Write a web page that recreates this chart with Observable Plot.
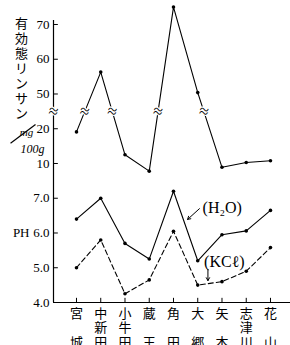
<!DOCTYPE html>
<html><head><meta charset="utf-8">
<script src="https://cdn.jsdelivr.net/npm/d3@7"></script>
<script src="https://cdn.jsdelivr.net/npm/@observablehq/plot@0.6"></script>
<style>html,body{margin:0;padding:0;background:#fff} svg{display:block}</style>
</head><body><div id="chart"></div>
<script>
// ---- data ----
const sites = ["宮城","中新田","小牛田","蔵王","角田","大郷","矢本","志津川","花山"];
const phosphorus = [19.1, 56.3, 12.5, 7.8, 75.0, 50.4, 8.9, 10.3, 10.8]; // mg/100g
const phH2O = [6.4, 7.0, 5.7, 5.25, 7.2, 5.2, 5.95, 6.06, 6.65];
const phKCl = [5.0, 5.8, 4.25, 4.65, 6.05, 4.5, 4.6, 4.9, 5.58];
const pTicks = [10, 20, 50, 60, 70];
const phTicks = [4, 5, 6, 7];
const yTitle = "有効態リンサン";
const unitTop = "mg", unitBottom = "100g";
const seriesLabels = ["(H₂O)", "(KCℓ)"];
const labelPos = [{x: 5.2, ph: 6.73}, {x: 5.26, ph: 5.18}];
const arrowPos = [{x1: 5.07, ph1: 6.70, x2: 4.58, ph2: 6.39}, {x1: 5.42, ph1: 4.95, x2: 5.42, ph2: 4.63}];
const unitSlash = [{x1: -2.72, p1: 15.8, x2: -1.69, p2: 21.2}];

// ---- broken-axis position ----
const posPH = v => v - 4;
const posP = v => v < 35 ? 4 + (v - 10) / 10 : 6 + (v - 50) / 10;
const breakPos = 5.5;

const pData = phosphorus.map((v, i) => ({i, pos: posP(v)}));
const hData = phH2O.map((v, i) => ({i, pos: posPH(v)}));
const kData = phKCl.map((v, i) => ({i, pos: posPH(v)}));
const breaks = [];
for (let i = 0; i < pData.length - 1; i++) {
  const a = pData[i].pos, b = pData[i + 1].pos;
  if ((a < breakPos) !== (b < breakPos)) breaks.push({x: i + (breakPos - a) / (b - a)});
}
const tickTable = [
  ...pTicks.map(v => ({pos: posP(v), label: String(v)})),
  ...phTicks.map(v => ({pos: posPH(v), label: v.toFixed(1)}))
];

const xMin = -0.948, xMax = 8.825, yMax = 8.115;
const serif = "'Liberation Serif','DejaVu Serif',serif";
const cjk = "'Noto Sans CJK JP',sans-serif";

const chart = Plot.plot({
  width: 290, height: 345,
  marginLeft: 53, marginRight: 0, marginTop: 20, marginBottom: 43,
  x: {domain: [xMin, xMax], axis: null},
  y: {domain: [0, yMax], axis: null},
  style: {fontFamily: serif, fontSize: "13px", background: "#fff", color: "#000"},
  marks: [
    Plot.ruleX([xMin], {stroke: "#000", strokeWidth: 1.2}),
    Plot.ruleY([0], {stroke: "#000", strokeWidth: 1.2}),
    Plot.ruleY(tickTable, {y: "pos", x1: xMin, x2: xMin + 0.2, stroke: "#000"}),
    Plot.text(tickTable, {x: xMin, y: "pos", text: "label", textAnchor: "end", dx: -4, fontSize: 13, fontFamily: serif}),
    Plot.text(["PH"], {x: xMin, y: posPH(6), textAnchor: "end", dx: -24, fontSize: 13, fontFamily: serif}),
    Plot.ruleX(sites.map((d, i) => i), {x: d => d, y1: 0, y2: 0.12, stroke: "#000"}),
    Plot.text(sites, {x: (d, i) => i, y: 0, text: d => d.length === 2 ? d[0] + "\n\u3000\n" + d[1] : [...d].join("\n"),
      lineAnchor: "top", dy: 5, lineHeight: 1.12, fontSize: 13, fontFamily: cjk}),
    // y title
    Plot.text([yTitle], {frameAnchor: "top-left", dx: -32, dy: -3, text: d => [...d].join("\n"), lineAnchor: "top",
      textAnchor: "middle", lineHeight: 1.15, fontSize: 13, fontFamily: cjk}),
    Plot.text([unitTop], {frameAnchor: "top-left", dx: -27, dy: 108, textAnchor: "middle", fontStyle: "italic", fontSize: 11, fontFamily: serif}),
    Plot.link(unitSlash, {x1: "x1", y1: d => posP(d.p1), x2: "x2", y2: d => posP(d.p2), stroke: "#000", strokeWidth: 1.2}),
    Plot.text([unitBottom], {frameAnchor: "top-left", dx: -21, dy: 124, textAnchor: "middle", fontStyle: "italic", fontSize: 12, fontFamily: serif}),
    // series
    Plot.line(pData, {x: "i", y: "pos", stroke: "#000", strokeWidth: 1.1}),
    Plot.dot(pData, {x: "i", y: "pos", r: 1.8, fill: "#000"}),
    Plot.line(hData, {x: "i", y: "pos", stroke: "#000", strokeWidth: 1.1}),
    Plot.dot(hData, {x: "i", y: "pos", r: 1.8, fill: "#000"}),
    Plot.line(kData, {x: "i", y: "pos", stroke: "#000", strokeWidth: 1.1, strokeDasharray: "5,3"}),
    Plot.dot(kData, {x: "i", y: "pos", r: 1.8, fill: "#000"}),
    // breaks
    Plot.text([...breaks, {x: xMin}], {x: "x", y: () => breakPos, text: () => "≈", fontSize: 17, rotate: 12,
      fill: "#000", stroke: "#fff", strokeWidth: 2.5, paintOrder: "stroke", fontFamily: serif}),
    // annotations
    Plot.text(labelPos, {x: "x", y: d => posPH(d.ph), text: (d, i) => seriesLabels[i], textAnchor: "start", fontSize: 16, fontFamily: serif}),
    Plot.arrow(arrowPos, {x1: "x1", y1: d => posPH(d.ph1), x2: "x2", y2: d => posPH(d.ph2), stroke: "#000", strokeWidth: 1, headLength: 5})
  ]
});
document.getElementById("chart").append(chart);
</script></body></html>
